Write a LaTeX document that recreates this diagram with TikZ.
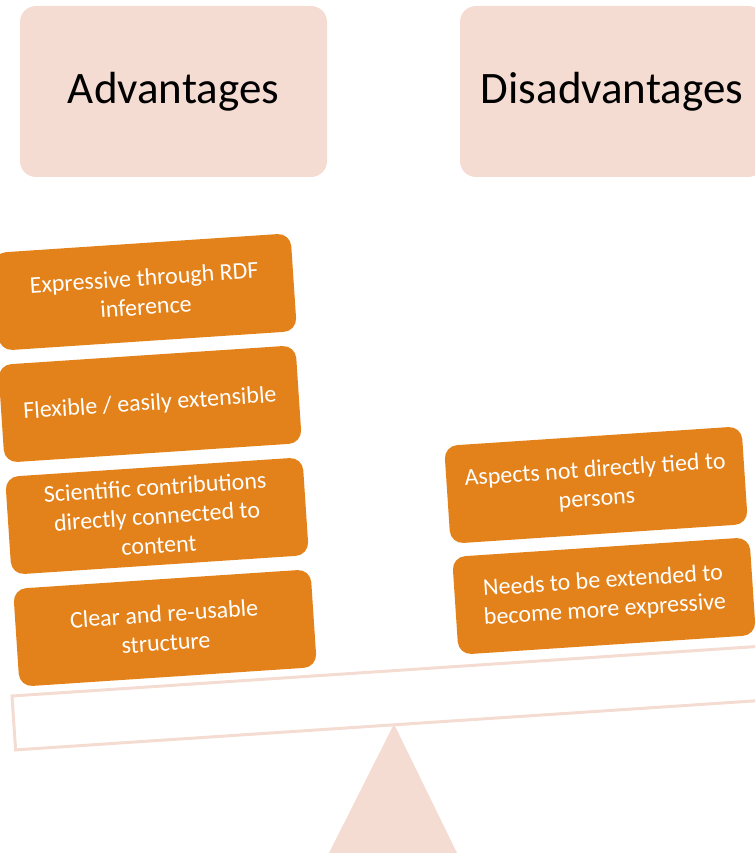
\documentclass[tikz,border=0pt]{standalone}
\usepackage{fontspec}
\setmainfont{Carlito}
\definecolor{orng}{HTML}{E3821A}
\definecolor{pinkl}{HTML}{F4DCD2}
\begin{document}
\begin{tikzpicture}[x=1pt,y=-1pt,
  head/.style={fill=pinkl,rounded corners=16pt,minimum width=307pt,minimum height=171pt,inner sep=0pt,font=\fontsize{45}{50}\selectfont,text=black},
  item/.style={fill=orng,rounded corners=13pt,minimum width=298pt,minimum height=98pt,inner sep=0pt,align=center,text=white,rotate=3.8,font=\fontsize{24}{29}\selectfont}]
\useasboundingbox (0,0) rectangle (755,853);
\begin{scope}
\clip (0,0) rectangle (755,853);
\node[head] (adv) at (173.5,91.5) {Advantages};
\node[head,minimum width=304pt] (dis) at (612,91.5) {Disadvantages};
% beam and fulcrum
\draw[pinkl,line width=3pt,line join=miter] (12,696) -- (790,644.3) -- (793.6,698.3) -- (15.6,749.9) -- cycle;
\fill[pinkl] (394,724) -- (457,853) -- (329,853) -- cycle;
\node[item] (a1) at (145,292) {Expressive through RDF\\inference};
\node[item] (a2) at (150,404) {Flexible / easily extensible};
\node[item] (a3) at (157,516) {Scientific contributions\\directly connected to\\content};
\node[item] (a4) at (165,628) {Clear and re-usable\\structure};
\node[item] (d1) at (596,485) {Aspects not directly tied to\\persons};
\node[item] (d2) at (604,596) {Needs to be extended to\\become more expressive};
\end{scope}
\end{tikzpicture}
\end{document}
